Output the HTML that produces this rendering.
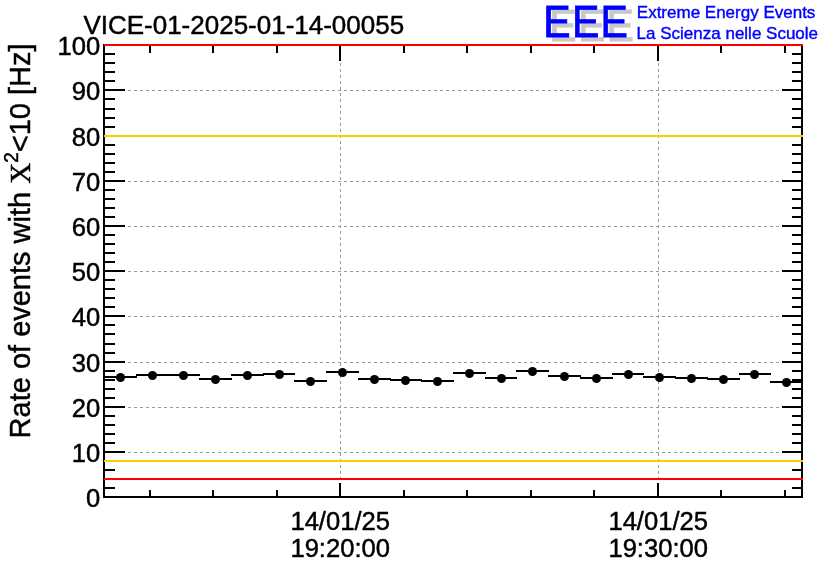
<!DOCTYPE html>
<html lang="en"><head><meta charset="utf-8"><title>VICE-01-2025-01-14-00055</title>
<style>
html,body{margin:0;padding:0;background:#fff;}
body{width:836px;height:572px;overflow:hidden;}
svg{display:block;font-family:"Liberation Sans",sans-serif;}
.ax{stroke:#000;stroke-width:2;shape-rendering:crispEdges;}
.gr{stroke:#999;stroke-width:1;stroke-dasharray:3 3;shape-rendering:crispEdges;}
.lb{font-size:25px;fill:#000;}
</style></head><body>
<svg width="836" height="572" viewBox="0 0 836 572">
<rect width="836" height="572" fill="#fff"/>
<g class="gr">
<line x1="104" y1="452.5" x2="802" y2="452.5"/>
<line x1="104" y1="407.5" x2="802" y2="407.5"/>
<line x1="104" y1="362.5" x2="802" y2="362.5"/>
<line x1="104" y1="316.5" x2="802" y2="316.5"/>
<line x1="104" y1="271.5" x2="802" y2="271.5"/>
<line x1="104" y1="226.5" x2="802" y2="226.5"/>
<line x1="104" y1="181.5" x2="802" y2="181.5"/>
<line x1="104" y1="136.5" x2="802" y2="136.5"/>
<line x1="104" y1="90.5" x2="802" y2="90.5"/>
<line x1="340.5" y1="45" x2="340.5" y2="497"/>
<line x1="658.5" y1="45" x2="658.5" y2="497"/>
</g>
<g class="ax">
<line x1="104" y1="44" x2="104" y2="498"/>
<line x1="802" y1="44" x2="802" y2="498"/>
<line x1="103" y1="497" x2="803" y2="497"/>
<line x1="103" y1="45" x2="803" y2="45"/>
<line x1="104" y1="497" x2="125" y2="497"/>
<line x1="782" y1="497" x2="802" y2="497"/>
<line x1="104" y1="488" x2="115" y2="488"/>
<line x1="792" y1="488" x2="802" y2="488"/>
<line x1="104" y1="479" x2="115" y2="479"/>
<line x1="792" y1="479" x2="802" y2="479"/>
<line x1="104" y1="470" x2="115" y2="470"/>
<line x1="792" y1="470" x2="802" y2="470"/>
<line x1="104" y1="461" x2="115" y2="461"/>
<line x1="792" y1="461" x2="802" y2="461"/>
<line x1="104" y1="452" x2="125" y2="452"/>
<line x1="782" y1="452" x2="802" y2="452"/>
<line x1="104" y1="443" x2="115" y2="443"/>
<line x1="792" y1="443" x2="802" y2="443"/>
<line x1="104" y1="434" x2="115" y2="434"/>
<line x1="792" y1="434" x2="802" y2="434"/>
<line x1="104" y1="425" x2="115" y2="425"/>
<line x1="792" y1="425" x2="802" y2="425"/>
<line x1="104" y1="416" x2="115" y2="416"/>
<line x1="792" y1="416" x2="802" y2="416"/>
<line x1="104" y1="407" x2="125" y2="407"/>
<line x1="782" y1="407" x2="802" y2="407"/>
<line x1="104" y1="398" x2="115" y2="398"/>
<line x1="792" y1="398" x2="802" y2="398"/>
<line x1="104" y1="389" x2="115" y2="389"/>
<line x1="792" y1="389" x2="802" y2="389"/>
<line x1="104" y1="380" x2="115" y2="380"/>
<line x1="792" y1="380" x2="802" y2="380"/>
<line x1="104" y1="371" x2="115" y2="371"/>
<line x1="792" y1="371" x2="802" y2="371"/>
<line x1="104" y1="362" x2="125" y2="362"/>
<line x1="782" y1="362" x2="802" y2="362"/>
<line x1="104" y1="353" x2="115" y2="353"/>
<line x1="792" y1="353" x2="802" y2="353"/>
<line x1="104" y1="344" x2="115" y2="344"/>
<line x1="792" y1="344" x2="802" y2="344"/>
<line x1="104" y1="334" x2="115" y2="334"/>
<line x1="792" y1="334" x2="802" y2="334"/>
<line x1="104" y1="325" x2="115" y2="325"/>
<line x1="792" y1="325" x2="802" y2="325"/>
<line x1="104" y1="316" x2="125" y2="316"/>
<line x1="782" y1="316" x2="802" y2="316"/>
<line x1="104" y1="307" x2="115" y2="307"/>
<line x1="792" y1="307" x2="802" y2="307"/>
<line x1="104" y1="298" x2="115" y2="298"/>
<line x1="792" y1="298" x2="802" y2="298"/>
<line x1="104" y1="289" x2="115" y2="289"/>
<line x1="792" y1="289" x2="802" y2="289"/>
<line x1="104" y1="280" x2="115" y2="280"/>
<line x1="792" y1="280" x2="802" y2="280"/>
<line x1="104" y1="271" x2="125" y2="271"/>
<line x1="782" y1="271" x2="802" y2="271"/>
<line x1="104" y1="262" x2="115" y2="262"/>
<line x1="792" y1="262" x2="802" y2="262"/>
<line x1="104" y1="253" x2="115" y2="253"/>
<line x1="792" y1="253" x2="802" y2="253"/>
<line x1="104" y1="244" x2="115" y2="244"/>
<line x1="792" y1="244" x2="802" y2="244"/>
<line x1="104" y1="235" x2="115" y2="235"/>
<line x1="792" y1="235" x2="802" y2="235"/>
<line x1="104" y1="226" x2="125" y2="226"/>
<line x1="782" y1="226" x2="802" y2="226"/>
<line x1="104" y1="217" x2="115" y2="217"/>
<line x1="792" y1="217" x2="802" y2="217"/>
<line x1="104" y1="208" x2="115" y2="208"/>
<line x1="792" y1="208" x2="802" y2="208"/>
<line x1="104" y1="199" x2="115" y2="199"/>
<line x1="792" y1="199" x2="802" y2="199"/>
<line x1="104" y1="190" x2="115" y2="190"/>
<line x1="792" y1="190" x2="802" y2="190"/>
<line x1="104" y1="181" x2="125" y2="181"/>
<line x1="782" y1="181" x2="802" y2="181"/>
<line x1="104" y1="172" x2="115" y2="172"/>
<line x1="792" y1="172" x2="802" y2="172"/>
<line x1="104" y1="163" x2="115" y2="163"/>
<line x1="792" y1="163" x2="802" y2="163"/>
<line x1="104" y1="154" x2="115" y2="154"/>
<line x1="792" y1="154" x2="802" y2="154"/>
<line x1="104" y1="145" x2="115" y2="145"/>
<line x1="792" y1="145" x2="802" y2="145"/>
<line x1="104" y1="136" x2="125" y2="136"/>
<line x1="782" y1="136" x2="802" y2="136"/>
<line x1="104" y1="127" x2="115" y2="127"/>
<line x1="792" y1="127" x2="802" y2="127"/>
<line x1="104" y1="118" x2="115" y2="118"/>
<line x1="792" y1="118" x2="802" y2="118"/>
<line x1="104" y1="109" x2="115" y2="109"/>
<line x1="792" y1="109" x2="802" y2="109"/>
<line x1="104" y1="99" x2="115" y2="99"/>
<line x1="792" y1="99" x2="802" y2="99"/>
<line x1="104" y1="90" x2="125" y2="90"/>
<line x1="782" y1="90" x2="802" y2="90"/>
<line x1="104" y1="81" x2="115" y2="81"/>
<line x1="792" y1="81" x2="802" y2="81"/>
<line x1="104" y1="72" x2="115" y2="72"/>
<line x1="792" y1="72" x2="802" y2="72"/>
<line x1="104" y1="63" x2="115" y2="63"/>
<line x1="792" y1="63" x2="802" y2="63"/>
<line x1="104" y1="54" x2="115" y2="54"/>
<line x1="792" y1="54" x2="802" y2="54"/>
<line x1="104" y1="45" x2="125" y2="45"/>
<line x1="782" y1="45" x2="802" y2="45"/>
<line x1="150" y1="497" x2="150" y2="490"/>
<line x1="150" y1="45" x2="150" y2="53"/>
<line x1="213" y1="497" x2="213" y2="490"/>
<line x1="213" y1="45" x2="213" y2="53"/>
<line x1="277" y1="497" x2="277" y2="490"/>
<line x1="277" y1="45" x2="277" y2="53"/>
<line x1="340" y1="497" x2="340" y2="483"/>
<line x1="340" y1="45" x2="340" y2="61"/>
<line x1="404" y1="497" x2="404" y2="490"/>
<line x1="404" y1="45" x2="404" y2="53"/>
<line x1="467" y1="497" x2="467" y2="490"/>
<line x1="467" y1="45" x2="467" y2="53"/>
<line x1="531" y1="497" x2="531" y2="490"/>
<line x1="531" y1="45" x2="531" y2="53"/>
<line x1="594" y1="497" x2="594" y2="490"/>
<line x1="594" y1="45" x2="594" y2="53"/>
<line x1="658" y1="497" x2="658" y2="483"/>
<line x1="658" y1="45" x2="658" y2="61"/>
<line x1="721" y1="497" x2="721" y2="490"/>
<line x1="721" y1="45" x2="721" y2="53"/>
<line x1="785" y1="497" x2="785" y2="490"/>
<line x1="785" y1="45" x2="785" y2="53"/>
</g>
<g>
<line class="ax" x1="104" y1="377" x2="137" y2="377"/>
<line class="ax" x1="136" y1="375" x2="168" y2="375"/>
<line class="ax" x1="167" y1="375" x2="200" y2="375"/>
<line class="ax" x1="199" y1="379" x2="232" y2="379"/>
<line class="ax" x1="231" y1="375" x2="264" y2="375"/>
<line class="ax" x1="263" y1="374" x2="295" y2="374"/>
<line class="ax" x1="294" y1="381" x2="327" y2="381"/>
<line class="ax" x1="326" y1="372" x2="359" y2="372"/>
<line class="ax" x1="358" y1="379" x2="391" y2="379"/>
<line class="ax" x1="390" y1="380" x2="422" y2="380"/>
<line class="ax" x1="421" y1="381" x2="454" y2="381"/>
<line class="ax" x1="453" y1="373" x2="486" y2="373"/>
<line class="ax" x1="485" y1="378" x2="517" y2="378"/>
<line class="ax" x1="516" y1="371" x2="549" y2="371"/>
<line class="ax" x1="548" y1="376" x2="581" y2="376"/>
<line class="ax" x1="580" y1="378" x2="613" y2="378"/>
<line class="ax" x1="612" y1="374" x2="644" y2="374"/>
<line class="ax" x1="643" y1="377" x2="676" y2="377"/>
<line class="ax" x1="675" y1="378" x2="708" y2="378"/>
<line class="ax" x1="707" y1="379" x2="740" y2="379"/>
<line class="ax" x1="739" y1="374" x2="771" y2="374"/>
<line class="ax" x1="770" y1="382" x2="803" y2="382"/>
<circle cx="120.5" cy="377.5" r="4.5" fill="#000"/>
<circle cx="152.5" cy="375.5" r="4.5" fill="#000"/>
<circle cx="183.5" cy="375.5" r="4.5" fill="#000"/>
<circle cx="215.5" cy="379.5" r="4.5" fill="#000"/>
<circle cx="247.5" cy="375.5" r="4.5" fill="#000"/>
<circle cx="279.5" cy="374.5" r="4.5" fill="#000"/>
<circle cx="310.5" cy="381.5" r="4.5" fill="#000"/>
<circle cx="342.5" cy="372.5" r="4.5" fill="#000"/>
<circle cx="374.5" cy="379.5" r="4.5" fill="#000"/>
<circle cx="405.5" cy="380.5" r="4.5" fill="#000"/>
<circle cx="437.5" cy="381.5" r="4.5" fill="#000"/>
<circle cx="469.5" cy="373.5" r="4.5" fill="#000"/>
<circle cx="501.5" cy="378.5" r="4.5" fill="#000"/>
<circle cx="532.5" cy="371.5" r="4.5" fill="#000"/>
<circle cx="564.5" cy="376.5" r="4.5" fill="#000"/>
<circle cx="596.5" cy="378.5" r="4.5" fill="#000"/>
<circle cx="628.5" cy="374.5" r="4.5" fill="#000"/>
<circle cx="659.5" cy="377.5" r="4.5" fill="#000"/>
<circle cx="691.5" cy="378.5" r="4.5" fill="#000"/>
<circle cx="723.5" cy="379.5" r="4.5" fill="#000"/>
<circle cx="754.5" cy="374.5" r="4.5" fill="#000"/>
<circle cx="786.5" cy="382.5" r="4.5" fill="#000"/>
</g>
<g stroke-width="2" shape-rendering="crispEdges">
<line x1="104" y1="136" x2="803" y2="136" stroke="#ffcc00"/>
<line x1="104" y1="461" x2="803" y2="461" stroke="#ffcc00"/>
<line x1="104" y1="45" x2="803" y2="45" stroke="#ff0000"/>
<line x1="104" y1="479" x2="803" y2="479" stroke="#ff0000"/>
</g>
<text transform="translate(100.3,506.9) scale(1,1.02)" text-anchor="end" font-size="25.6px" fill="#000" stroke="#000" stroke-width="0.45" >0</text>
<text transform="translate(100.3,461.9) scale(1,1.02)" text-anchor="end" font-size="25.6px" fill="#000" stroke="#000" stroke-width="0.45" >10</text>
<text transform="translate(100.3,416.9) scale(1,1.02)" text-anchor="end" font-size="25.6px" fill="#000" stroke="#000" stroke-width="0.45" >20</text>
<text transform="translate(100.3,371.9) scale(1,1.02)" text-anchor="end" font-size="25.6px" fill="#000" stroke="#000" stroke-width="0.45" >30</text>
<text transform="translate(100.3,325.9) scale(1,1.02)" text-anchor="end" font-size="25.6px" fill="#000" stroke="#000" stroke-width="0.45" >40</text>
<text transform="translate(100.3,280.9) scale(1,1.02)" text-anchor="end" font-size="25.6px" fill="#000" stroke="#000" stroke-width="0.45" >50</text>
<text transform="translate(100.3,235.9) scale(1,1.02)" text-anchor="end" font-size="25.6px" fill="#000" stroke="#000" stroke-width="0.45" >60</text>
<text transform="translate(100.3,190.9) scale(1,1.02)" text-anchor="end" font-size="25.6px" fill="#000" stroke="#000" stroke-width="0.45" >70</text>
<text transform="translate(100.3,145.9) scale(1,1.02)" text-anchor="end" font-size="25.6px" fill="#000" stroke="#000" stroke-width="0.45" >80</text>
<text transform="translate(100.3,99.9) scale(1,1.02)" text-anchor="end" font-size="25.6px" fill="#000" stroke="#000" stroke-width="0.45" >90</text>
<text transform="translate(100.3,54.9) scale(1,1.02)" text-anchor="end" font-size="25.6px" fill="#000" stroke="#000" stroke-width="0.45" >100</text>
<text transform="translate(340.2,530.3) scale(1,1.02)" text-anchor="middle" font-size="25.6px" fill="#000" stroke="#000" stroke-width="0.45" >14/01/25</text>
<text transform="translate(340.2,557.3) scale(1,1.02)" text-anchor="middle" font-size="25.6px" fill="#000" stroke="#000" stroke-width="0.45" >19:20:00</text>
<text transform="translate(658.2,530.3) scale(1,1.02)" text-anchor="middle" font-size="25.6px" fill="#000" stroke="#000" stroke-width="0.45" >14/01/25</text>
<text transform="translate(658.2,557.3) scale(1,1.02)" text-anchor="middle" font-size="25.6px" fill="#000" stroke="#000" stroke-width="0.45" >19:30:00</text>
<text transform="translate(83.4,33.8) scale(1,1.02)" text-anchor="start" font-size="26px" fill="#000" stroke="#000" stroke-width="0.45" >VICE-01-2025-01-14-00055</text>
<text transform="translate(30,43.5) rotate(-90) scale(1,1.02)" text-anchor="end" font-size="29px" fill="#000" stroke="#000" stroke-width="0.45" >Rate of events with <tspan font-family="Liberation Serif,serif">X</tspan><tspan dy="-11.3" font-size="19px">2</tspan><tspan dy="11.3">&lt;10 [Hz]</tspan></text>
<text transform="translate(549.3,41.4) scale(0.955,1.045)" text-anchor="start" font-size="43px" fill="#c8c8c8" stroke="#c8c8c8" stroke-width="0.8" letter-spacing="1.3">EEE</text>
<text transform="translate(543.3,36.7) scale(0.955,1.045)" text-anchor="start" font-size="43px" fill="#0000ff" stroke="#0000ff" stroke-width="0.8" letter-spacing="1.3">EEE</text>
<text transform="translate(636.8,17.7) scale(1,1.0)" text-anchor="start" font-size="17px" fill="#0000ff" stroke="#0000ff" stroke-width="0.4" >Extreme Energy Events</text>
<text transform="translate(636.6,39.1) scale(1,1.0)" text-anchor="start" font-size="17px" fill="#0000ff" stroke="#0000ff" stroke-width="0.4" >La Scienza nelle Scuole</text>
</svg>
</body></html>
